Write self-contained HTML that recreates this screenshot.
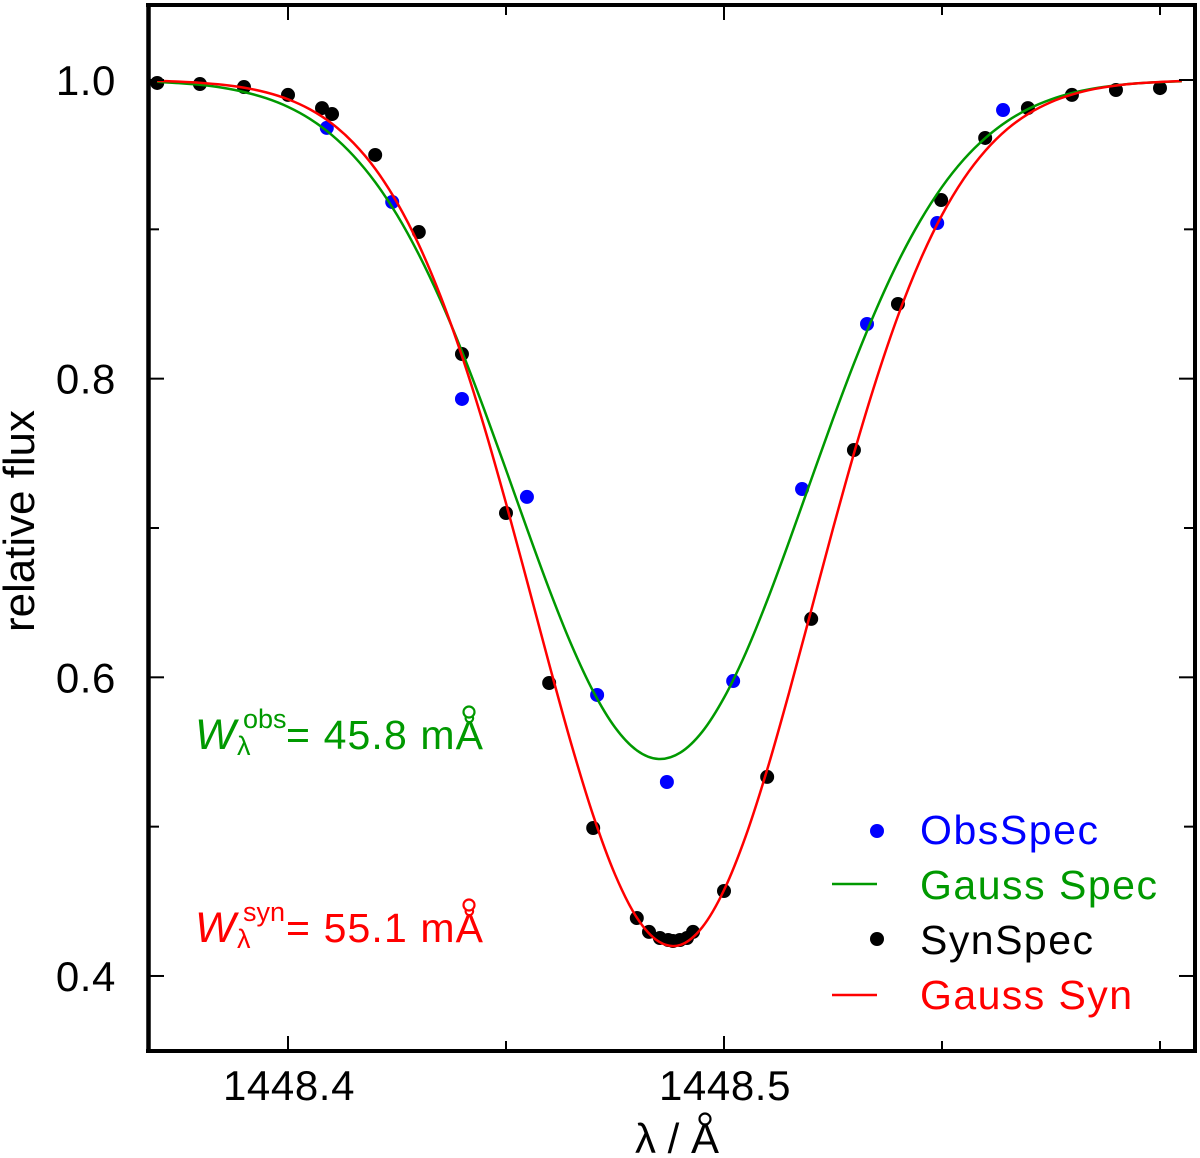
<!DOCTYPE html>
<html lang="en">
<head>
<meta charset="utf-8">
<title>Line profile chart</title>
<style>
  html, body { margin: 0; padding: 0; background: #fff; }
  svg { display: block; font-family: "Liberation Sans", "DejaVu Sans", sans-serif; }
</style>
</head>
<body>
<svg id="chart" xmlns="http://www.w3.org/2000/svg" width="1200" height="1158" viewBox="0 0 1200 1158">
  <rect x="0" y="0" width="1200" height="1158" fill="#fff"/>
  <g id="marks"></g>
  <g id="axes"></g>

  <text transform="translate(34,521) rotate(-90)" text-anchor="middle" font-size="44" textLength="222" lengthAdjust="spacing" fill="#000">relative flux</text>
  <text x="677" y="1153" text-anchor="middle" font-size="42" fill="#000">λ / Å</text>
  <circle cx="705" cy="1119" r="5.5" fill="#fff" stroke="#000" stroke-width="2.2"/>

  <g fill="#009900">
    <text x="195" y="749" font-size="43" font-style="italic">W</text>
    <text x="237" y="755" font-size="27">λ</text>
    <text x="243" y="728" font-size="27">obs</text>
    <text x="286" y="749" font-size="41" textLength="197" lengthAdjust="spacing">= 45.8 mÅ</text>
    <circle cx="469" cy="712" r="5.5" fill="#fff" stroke="#009900" stroke-width="2.2"/>
  </g>
  <g fill="#ff0000">
    <text x="195" y="942" font-size="43" font-style="italic">W</text>
    <text x="237" y="948" font-size="27">λ</text>
    <text x="243" y="921" font-size="27">syn</text>
    <text x="286" y="942" font-size="41" textLength="197" lengthAdjust="spacing">= 55.1 mÅ</text>
    <circle cx="469" cy="905" r="5.5" fill="#fff" stroke="#ff0000" stroke-width="2.2"/>
  </g>

  <g font-size="41">
    <circle cx="877" cy="831" r="7" fill="#0000ff"/>
    <text x="920" y="844" fill="#0000ff" textLength="178" lengthAdjust="spacing">ObsSpec</text>
    <line x1="832" x2="877" y1="884" y2="884" stroke="#009900" stroke-width="2.5"/>
    <text x="920" y="899" fill="#009900" textLength="237" lengthAdjust="spacing">Gauss Spec</text>
    <circle cx="877" cy="939" r="7" fill="#000"/>
    <text x="920" y="954" fill="#000" textLength="173" lengthAdjust="spacing">SynSpec</text>
    <line x1="832" x2="877" y1="995" y2="995" stroke="#ff0000" stroke-width="2.5"/>
    <text x="920" y="1009" fill="#ff0000" textLength="212" lengthAdjust="spacing">Gauss Syn</text>
  </g>
</svg>

<script>
// Data (wavelength offsets are from 1448 Å)
const obsWave = [0.4089, 0.4239, 0.4399, 0.4548, 0.4709, 0.4869, 0.5021, 0.5179, 0.5328, 0.5489, 0.5640];
const obsFlux = [0.9679, 0.9183, 0.7864, 0.7208, 0.5882, 0.5299, 0.5975, 0.7261, 0.8366, 0.9042, 0.9799];

const synWave = [0.3700, 0.3798, 0.3899, 0.4000, 0.4078, 0.4101, 0.4200, 0.4300, 0.4399, 0.4500, 0.4599, 0.4700, 0.4800, 0.4828, 0.4853, 0.4872, 0.4883, 0.4899, 0.4915, 0.4929, 0.5000, 0.5099, 0.5200, 0.5298, 0.5399, 0.5498, 0.5599, 0.5697, 0.5798, 0.5899, 0.6000];
const synFlux = [0.9980, 0.9973, 0.9953, 0.9900, 0.9812, 0.9772, 0.9498, 0.8982, 0.8165, 0.7100, 0.5962, 0.4991, 0.4388, 0.4295, 0.4254, 0.4241, 0.4234, 0.4241, 0.4254, 0.4295, 0.4569, 0.5333, 0.6391, 0.7522, 0.8500, 0.9196, 0.9612, 0.9812, 0.9900, 0.9933, 0.9946];

const curveWave = [0.370, 0.375, 0.380, 0.385, 0.390, 0.395, 0.400, 0.405, 0.410, 0.415, 0.420, 0.425, 0.430, 0.435, 0.440, 0.445, 0.450, 0.455, 0.460, 0.465, 0.470, 0.475, 0.480, 0.485, 0.490, 0.495, 0.500, 0.505, 0.510, 0.515, 0.520, 0.525, 0.530, 0.535, 0.540, 0.545, 0.550, 0.555, 0.560, 0.565, 0.570, 0.575, 0.580, 0.585, 0.590, 0.595, 0.600, 0.605];
const gaussSpecFlux = [0.9988, 0.9979, 0.9967, 0.9948, 0.9919, 0.9878, 0.9820, 0.9740, 0.9633, 0.9493, 0.9316, 0.9097, 0.8832, 0.8524, 0.8175, 0.7793, 0.7390, 0.6980, 0.6583, 0.6218, 0.5906, 0.5665, 0.5511, 0.5453, 0.5496, 0.5635, 0.5863, 0.6164, 0.6522, 0.6915, 0.7324, 0.7730, 0.8116, 0.8470, 0.8786, 0.9057, 0.9284, 0.9468, 0.9613, 0.9725, 0.9809, 0.9870, 0.9914, 0.9944, 0.9964, 0.9978, 0.9986, 0.9992];
const gaussSynFlux = [0.9994, 0.9989, 0.9981, 0.9968, 0.9948, 0.9917, 0.9871, 0.9804, 0.9710, 0.9579, 0.9406, 0.9180, 0.8897, 0.8551, 0.8143, 0.7678, 0.7166, 0.6625, 0.6078, 0.5551, 0.5075, 0.4680, 0.4391, 0.4231, 0.4208, 0.4326, 0.4575, 0.4938, 0.5391, 0.5905, 0.6449, 0.6996, 0.7519, 0.8000, 0.8428, 0.8793, 0.9096, 0.9339, 0.9528, 0.9672, 0.9777, 0.9852, 0.9904, 0.9940, 0.9963, 0.9978, 0.9987, 0.9993];

const xMajorTicks = [0.4, 0.5];
const xMajorLabels = ["1448.4", "1448.5"];
const xMinorTicks = [0.45, 0.55, 0.6];
const yMajorTicks = [1.0, 0.8, 0.6, 0.4];
const yMajorLabels = ["1.0", "0.8", "0.6", "0.4"];
const yMinorTicks = [0.9, 0.7, 0.5];

// Axis functions
function xScale(w) { return 288 + (w - 0.4) * 4360; }
function yScale(f) { return 80 + (1 - f) * 1493.3; }

const NS = 'http://www.w3.org/2000/svg';
const marks = document.getElementById('marks');
const axes = document.getElementById('axes');

function make(tag, attrs, parent) {
  const el = document.createElementNS(NS, tag);
  for (const k in attrs) el.setAttribute(k, attrs[k]);
  parent.appendChild(el);
  return el;
}

function smoothPath(xs, ys) {
  const p = xs.map((w, i) => [xScale(w), yScale(ys[i])]);
  let d = 'M' + p[0][0].toFixed(2) + ' ' + p[0][1].toFixed(2);
  for (let i = 0; i < p.length - 1; i++) {
    const a = p[Math.max(i - 1, 0)], b = p[i], c = p[i + 1], e = p[Math.min(i + 2, p.length - 1)];
    const c1x = b[0] + (c[0] - a[0]) / 6, c1y = b[1] + (c[1] - a[1]) / 6;
    const c2x = c[0] - (e[0] - b[0]) / 6, c2y = c[1] - (e[1] - b[1]) / 6;
    d += 'C' + c1x.toFixed(2) + ' ' + c1y.toFixed(2) + ' ' + c2x.toFixed(2) + ' ' + c2y.toFixed(2) + ' ' + c[0].toFixed(2) + ' ' + c[1].toFixed(2);
  }
  return d;
}

// Points
synWave.forEach(function (w, i) {
  const dot = make('circle', { cx: xScale(w), cy: yScale(synFlux[i]), r: 7, fill: '#000' }, marks);
  
  
});
obsWave.forEach(function (w, i) {
  const dot = make('circle', { cx: xScale(w), cy: yScale(obsFlux[i]), r: 7, fill: '#0000ff' }, marks);
  
  
});

// Curves
const greenCurve = make('path', { d: smoothPath(curveWave, gaussSpecFlux), fill: 'none', stroke: '#009900', 'stroke-width': 2.5 }, marks);


const redCurve = make('path', { d: smoothPath(curveWave, gaussSynFlux), fill: 'none', stroke: '#ff0000', 'stroke-width': 2.5 }, marks);



// Ticks
const L = 150, R = 1193, T = 6, B = 1050;
function xTick(w, len) {
  const x = xScale(w);
  const a = make('line', { x1: x, x2: x, y1: B, y2: B - len, stroke: '#000', 'stroke-width': 2 }, axes);
  
  
  const b = make('line', { x1: x, x2: x, y1: T, y2: T + len, stroke: '#000', 'stroke-width': 2 }, axes);
  
  
}
function yTick(f, len) {
  const y = yScale(f);
  const a = make('line', { x1: L, x2: L + len, y1: y, y2: y, stroke: '#000', 'stroke-width': 2 }, axes);
  
  
  const b = make('line', { x1: R, x2: R - len, y1: y, y2: y, stroke: '#000', 'stroke-width': 2 }, axes);
  
  
}
xMajorTicks.forEach(function (w) { xTick(w, 14); });
xMinorTicks.forEach(function (w) { xTick(w, 9); });
yMajorTicks.forEach(function (f) { yTick(f, 14); });
yMinorTicks.forEach(function (f) { yTick(f, 9); });

// Tick labels
xMajorTicks.forEach(function (w, i) {
  const t = make('text', { x: xScale(w) + 1, y: 1100, 'text-anchor': 'middle', 'font-size': 42, 'letter-spacing': 0.6, fill: '#000' }, axes);
  t.textContent = xMajorLabels[i];
  
  
});
yMajorTicks.forEach(function (f, i) {
  const t = make('text', { x: 116, y: yScale(f) + 15, 'text-anchor': 'end', 'font-size': 42, 'letter-spacing': 0.6, fill: '#000' }, axes);
  t.textContent = yMajorLabels[i];
  
  
});

// Frame
const frameTop = make('line', { x1: 146, x2: 1197, y1: 5, y2: 5, stroke: '#000', 'stroke-width': 4 }, axes);


const frameBottom = make('line', { x1: 146, x2: 1197, y1: 1051, y2: 1051, stroke: '#000', 'stroke-width': 4 }, axes);


const frameLeft = make('line', { x1: 148.5, x2: 148.5, y1: 3, y2: 1053, stroke: '#000', 'stroke-width': 4.5 }, axes);


const frameRight = make('line', { x1: 1195, x2: 1195, y1: 3, y2: 1053, stroke: '#000', 'stroke-width': 4 }, axes);


</script>
</body>
</html>
